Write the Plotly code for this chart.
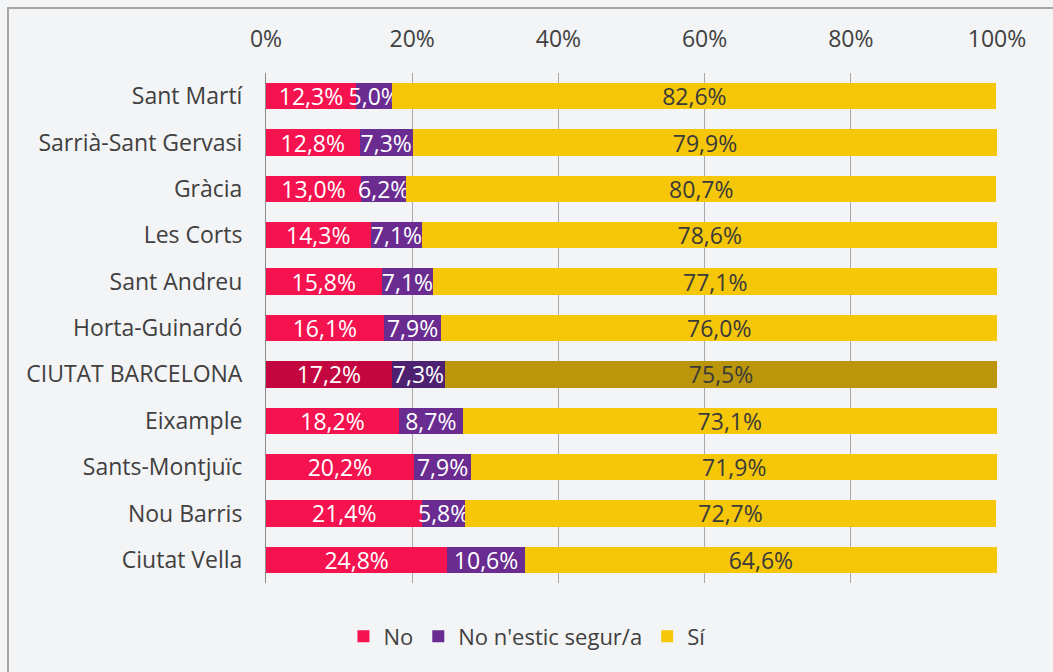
import plotly.graph_objects as go

districts = ["Sant Martí", "Sarrià-Sant Gervasi", "Gràcia", "Les Corts", "Sant Andreu",
             "Horta-Guinardó", "CIUTAT BARCELONA", "Eixample", "Sants-Montjuïc",
             "Nou Barris", "Ciutat Vella"]
no_vals = [12.3, 12.8, 13.0, 14.3, 15.8, 16.1, 17.2, 18.2, 20.2, 21.4, 24.8]
unsure_vals = [5.0, 7.3, 6.2, 7.1, 7.1, 7.9, 7.3, 8.7, 7.9, 5.8, 10.6]
si_vals = [82.6, 79.9, 80.7, 78.6, 77.1, 76.0, 75.5, 73.1, 71.9, 72.7, 64.6]
tick_vals = [0, 20, 40, 60, 80, 100]
tick_text = ["0%", "20%", "40%", "60%", "80%", "100%"]

series = [
    ("No", no_vals, "#F4124F", "#C3063F", "white"),
    ("No n'estic segur/a", unsure_vals, "#6A2C90", "#4E2170", "white"),
    ("Sí", si_vals, "#F5C708", "#BB960A", "#3a3a3a"),
]

FONT = "Open Sans"
FS = 23
fig = go.Figure()
for name, vals, col, hl, tcol in series:
    colors = [hl if d == "CIUTAT BARCELONA" else col for d in districts]
    fig.add_trace(go.Bar(
        name=name, y=districts, x=vals, orientation="h",
        marker=dict(color=colors, line=dict(width=0)),
        text=[f"{v:.1f}%".replace(".", ",") for v in vals],
        textposition="inside", insidetextanchor="middle", textangle=0,
        constraintext="none", cliponaxis=False,
        textfont=dict(color=tcol, size=FS, family=FONT),
        width=0.57,
    ))

W, H = 1053, 672
L, R, T, B = 266, 56, 73, 89
pw, ph = W - L - R, H - T - B

fig.update_layout(
    width=W, height=H, barmode="stack",
    margin=dict(l=L, r=R, t=T, b=B),
    paper_bgcolor="#F3F4F6", plot_bgcolor="#F3F4F6",
    font=dict(family=FONT, color="#404040", size=FS),
    showlegend=True,
    legend=dict(orientation="h", x=0.357, xanchor="center", y=-0.105, yanchor="middle",
                font=dict(size=22, color="#404040"), traceorder="normal"),
    xaxis=dict(side="top", range=[0, 100], tickvals=tick_vals, ticktext=tick_text,
               showgrid=True, gridcolor="#A8A8A8", gridwidth=1, zeroline=False,
               showline=False, ticks="", ticklabelstandoff=20,
               tickfont=dict(size=FS, color="#404040")),
    yaxis=dict(autorange="reversed", showline=True, linecolor="#8C8C8C", linewidth=1,
               ticks="", showgrid=False, ticklabelstandoff=18,
               tickfont=dict(size=FS, color="#404040")),
    shapes=[dict(type="rect", xref="paper", yref="paper",
                 x0=(8 - L) / pw, x1=(W + 20 - L) / pw,
                 y0=-(H + 20 - T - ph) / ph, y1=1 + (T - 8) / ph,
                 line=dict(color="#A6A6A6", width=2), layer="below")],
)
fig.write_html("out.html", config={"displayModeBar": False},
               post_script="document.body.style.margin='0';document.body.style.background='#F3F4F6';")
